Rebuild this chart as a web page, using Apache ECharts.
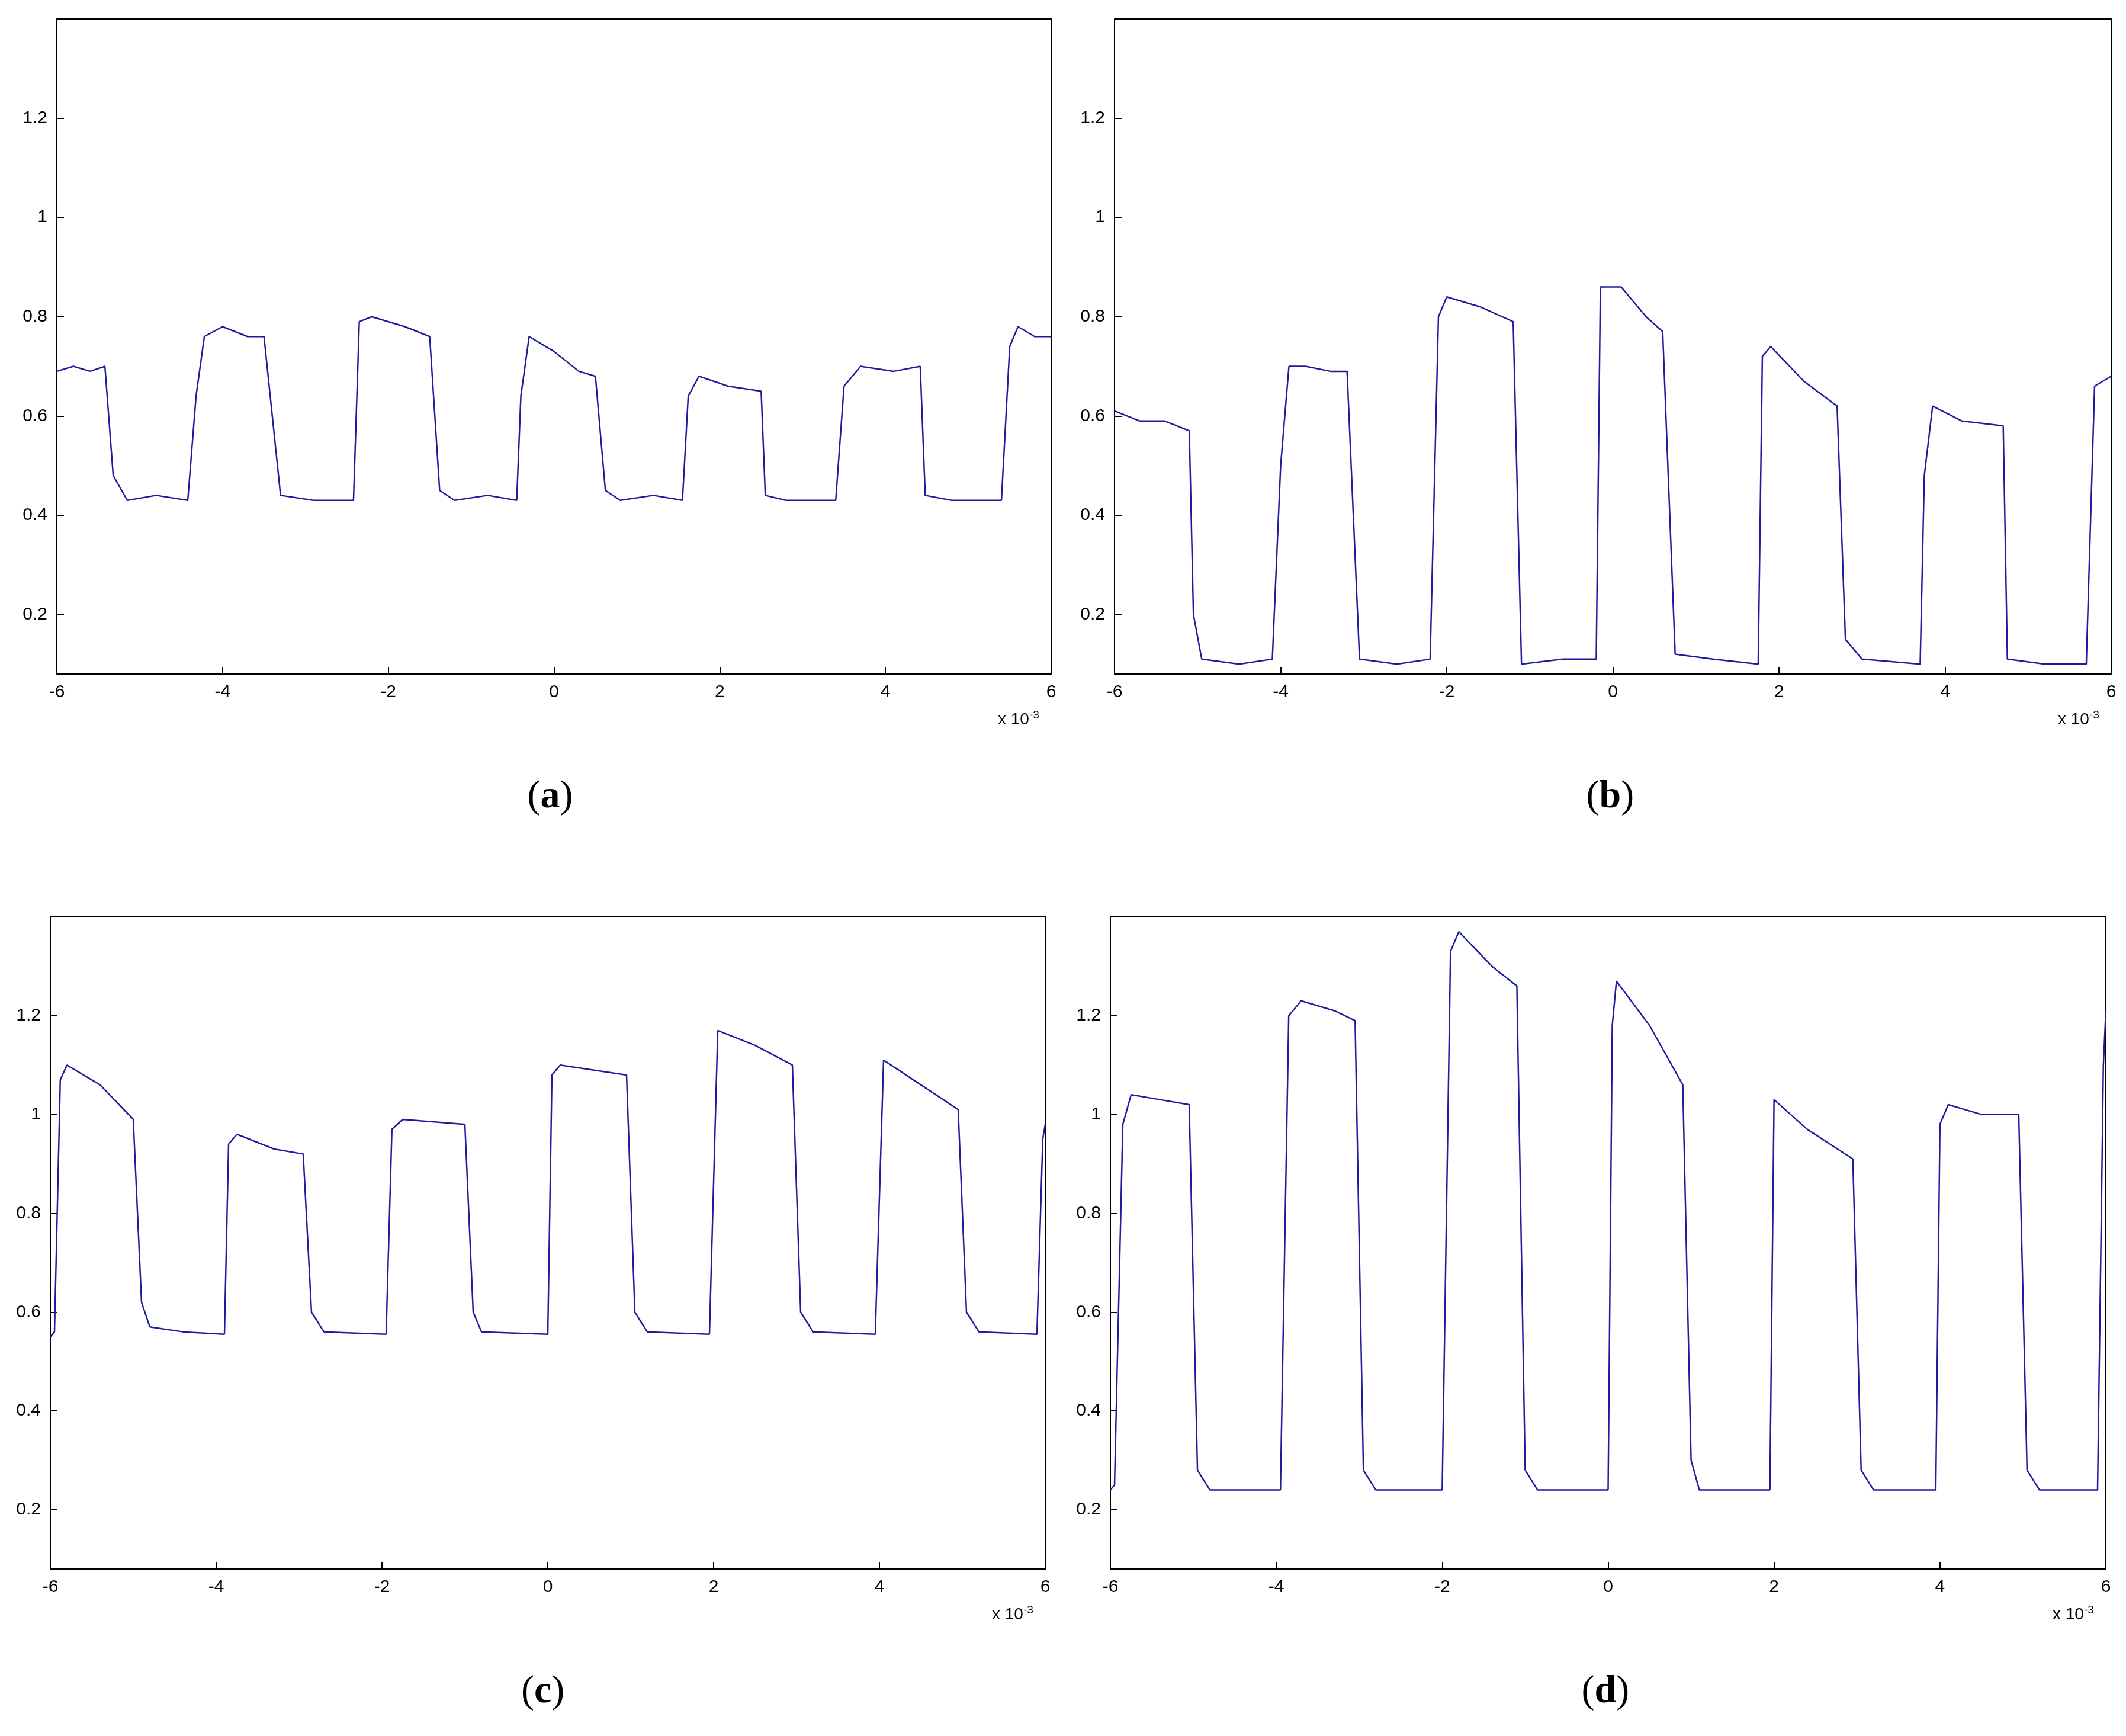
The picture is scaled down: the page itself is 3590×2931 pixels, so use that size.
<!DOCTYPE html>
<html lang="en">
<head>
    <meta charset="UTF-8">
    <title>panels</title>
    <style>
        html,body{margin:0;background:#fff;}
        #main{width:3590px;height:2931px;}
    </style>
</head>
<body>
<div id="main"></div>
<script src="https://cdn.jsdelivr.net/npm/echarts@6/dist/echarts.min.js"></script>
<script>
    // 断点数据，x 单位为 1e-3
    const panelA = [[-6,0.69],[-5.8,0.70],[-5.6,0.69],[-5.42,0.70],[-5.32,0.48],[-5.15,0.43],[-4.8,0.44],[-4.42,0.43],[-4.32,0.64],[-4.22,0.76],[-4.0,0.78],[-3.7,0.76],[-3.5,0.76],[-3.3,0.44],[-2.9,0.43],[-2.42,0.43],[-2.35,0.79],[-2.2,0.80],[-1.8,0.78],[-1.5,0.76],[-1.38,0.45],[-1.2,0.43],[-0.8,0.44],[-0.45,0.43],[-0.4,0.64],[-0.3,0.76],[0.0,0.73],[0.3,0.69],[0.5,0.68],[0.62,0.45],[0.8,0.43],[1.2,0.44],[1.55,0.43],[1.62,0.64],[1.75,0.68],[2.1,0.66],[2.5,0.65],[2.55,0.44],[2.8,0.43],[3.4,0.43],[3.5,0.66],[3.7,0.70],[4.1,0.69],[4.42,0.70],[4.48,0.44],[4.8,0.43],[5.4,0.43],[5.5,0.74],[5.6,0.78],[5.8,0.76],[6,0.76]];
    const panelB = [[-6,0.61],[-5.7,0.59],[-5.4,0.59],[-5.1,0.57],[-5.05,0.2],[-4.95,0.11],[-4.5,0.10],[-4.1,0.11],[-4.0,0.5],[-3.9,0.70],[-3.7,0.70],[-3.4,0.69],[-3.2,0.69],[-3.05,0.11],[-2.6,0.10],[-2.2,0.11],[-2.1,0.80],[-2.0,0.84],[-1.6,0.82],[-1.2,0.79],[-1.1,0.1],[-0.6,0.11],[-0.2,0.11],[-0.15,0.86],[0.1,0.86],[0.4,0.80],[0.6,0.77],[0.75,0.12],[1.2,0.11],[1.75,0.1],[1.8,0.72],[1.9,0.74],[2.3,0.67],[2.7,0.62],[2.8,0.15],[3.0,0.11],[3.7,0.1],[3.75,0.48],[3.85,0.62],[4.2,0.59],[4.7,0.58],[4.75,0.11],[5.2,0.10],[5.7,0.10],[5.8,0.66],[6,0.68]];
    const panelC = [[-6,0.55],[-5.95,0.56],[-5.88,1.07],[-5.8,1.10],[-5.4,1.06],[-5.0,0.99],[-4.9,0.62],[-4.8,0.57],[-4.4,0.56],[-3.9,0.555],[-3.85,0.94],[-3.75,0.96],[-3.3,0.93],[-2.95,0.92],[-2.85,0.6],[-2.7,0.56],[-1.95,0.555],[-1.88,0.97],[-1.75,0.99],[-1.0,0.98],[-0.9,0.6],[-0.8,0.56],[0.0,0.555],[0.05,1.08],[0.15,1.1],[0.95,1.08],[1.05,0.6],[1.2,0.56],[1.95,0.555],[2.05,1.17],[2.5,1.14],[2.95,1.1],[3.05,0.6],[3.2,0.56],[3.95,0.555],[4.05,1.11],[4.5,1.06],[4.95,1.01],[5.05,0.6],[5.2,0.56],[5.9,0.555],[5.97,0.95],[6,0.98]];
    const panelD = [[-6,0.24],[-5.95,0.25],[-5.85,0.98],[-5.75,1.04],[-5.4,1.03],[-5.05,1.02],[-4.95,0.28],[-4.8,0.24],[-3.95,0.24],[-3.85,1.20],[-3.7,1.23],[-3.3,1.21],[-3.05,1.19],[-2.95,0.28],[-2.8,0.24],[-2.0,0.24],[-1.9,1.33],[-1.8,1.37],[-1.4,1.30],[-1.1,1.26],[-1.0,0.28],[-0.85,0.24],[0.0,0.24],[0.05,1.18],[0.1,1.27],[0.5,1.18],[0.9,1.06],[1.0,0.3],[1.1,0.24],[1.95,0.24],[2.0,1.03],[2.4,0.97],[2.95,0.91],[3.05,0.28],[3.2,0.24],[3.95,0.24],[4.0,0.98],[4.1,1.02],[4.5,1.0],[4.95,1.0],[5.05,0.28],[5.2,0.24],[5.9,0.24],[5.97,1.1],[6,1.21]];
    const panels = [panelA, panelB, panelC, panelD];
    const captions = ['a', 'b', 'c', 'd'];
    const yTicks = [0.2, 0.4, 0.6, 0.8, 1, 1.2];

    // 各子图的绘图区位置
    const boxes = [
        {left: 96, top: 32, width: 1679, height: 1106},
        {left: 1882, top: 32, width: 1683, height: 1106},
        {left: 85, top: 1548, width: 1680, height: 1101},
        {left: 1875, top: 1548, width: 1681, height: 1101}
    ];

    const myChart = echarts.init(document.getElementById('main'));
    const font = {fontFamily: 'Liberation Sans', fontSize: 30, color: '#000'};

    const option = {
        backgroundColor: '#fff',
        animation: false,
        grid: boxes.map(b => Object.assign({show: true, borderColor: '#000', borderWidth: 2, backgroundColor: '#fff'}, b)),
        xAxis: boxes.map((b, i) => ({
            type: 'value', gridIndex: i, min: -6, max: 6, interval: 2,
            axisLine: {onZero: false, lineStyle: {color: '#000', width: 2}},
            axisTick: {inside: true, length: 12, lineStyle: {color: '#000', width: 2}},
            axisLabel: Object.assign({margin: 16}, font),
            splitLine: {show: false}
        })),
        yAxis: boxes.map((b, i) => ({
            type: 'value', gridIndex: i, min: 0.08, max: 1.4,
            axisLine: {onZero: false, lineStyle: {color: '#000', width: 2}},
            axisTick: {inside: true, length: 12, customValues: yTicks, lineStyle: {color: '#000', width: 2}},
            axisLabel: Object.assign({margin: 16, customValues: yTicks}, font),
            splitLine: {show: false}
        })),
        series: panels.map((d, i) => ({
            type: 'line', xAxisIndex: i, yAxisIndex: i, data: d,
            symbol: 'none', lineStyle: {color: '#1c1c9c', width: 2.5}
        })),
        graphic: [].concat(
            boxes.map(b => ({
                type: 'text', left: b.left + b.width - 90, top: b.top + b.height + 60,
                style: {rich: {n: {fontFamily: 'Liberation Sans', fontSize: 28}, s: {fontFamily: 'Liberation Sans', fontSize: 19, padding: [0, 0, 16, 0]}},
                    text: '{n|x 10}{s|-3}', fill: '#000'}
            })),
            boxes.map((b, i) => ({
                type: 'text', left: b.left + b.width / 2 - 45, top: b.top + b.height + 175,
                style: {rich: {p: {fontFamily: 'Liberation Serif', fontSize: 66}, b: {fontFamily: 'Liberation Serif', fontSize: 66, fontWeight: 'bold'}},
                    text: '{p|(}{b|' + captions[i] + '}{p|)}', fill: '#000'}
            }))
        )
    };
    myChart.setOption(option);
</script>
</body>
</html>
